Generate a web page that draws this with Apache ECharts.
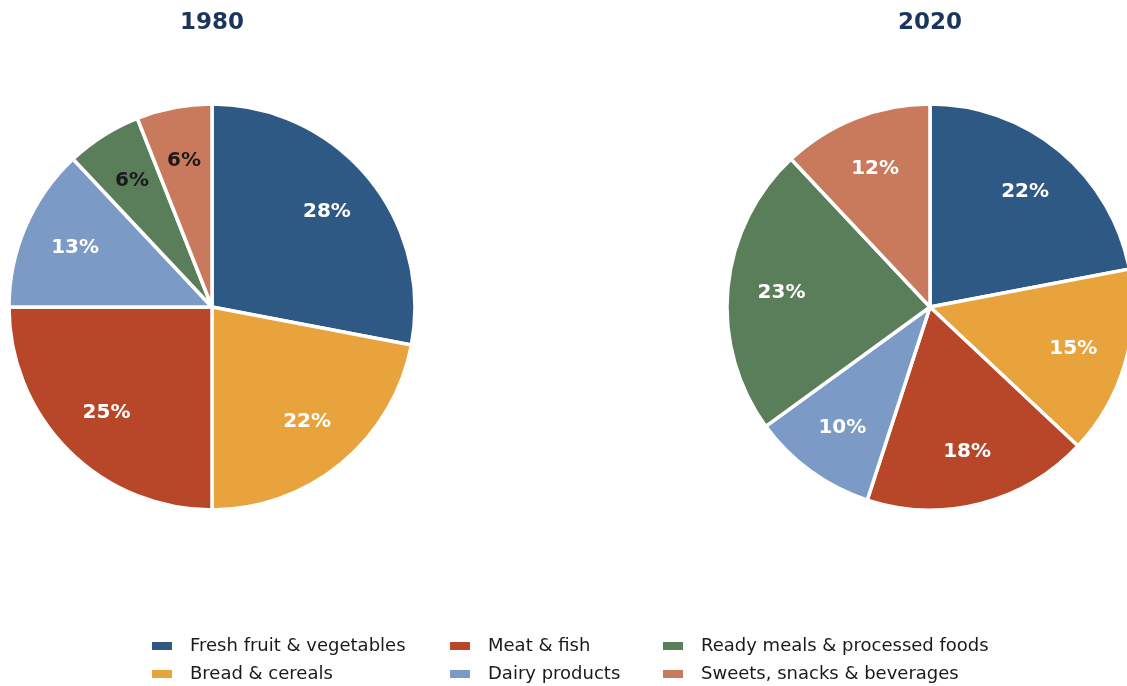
<!DOCTYPE html>
<html>
<head>
<meta charset="utf-8">
<script src="https://cdn.jsdelivr.net/npm/echarts@6/dist/echarts.min.js"></script>
<style>
  html, body { margin: 0; padding: 0; background: #fff; }
  #main { width: 1127px; height: 686px; }
</style>
</head>
<body>
<div id="main"></div>
<script>
// data
var categories = ['Fresh fruit & vegetables', 'Bread & cereals', 'Meat & fish', 'Dairy products', 'Ready meals & processed foods', 'Sweets, snacks & beverages'];
var colors = ['#2e5984', '#e8a33c', '#b8472a', '#7b9bc6', '#5a7d5a', '#c97a5c'];
var years = ['1980', '2020'];
var values1980 = [28, 22, 25, 13, 6, 6];
var values2020 = [22, 15, 18, 10, 23, 12];

var FONT = 'DejaVu Sans';
var R = 203;
var centers = [[212, 307], [930, 307]];

var chart = echarts.init(document.getElementById('main'));

function pieData(vals) {
    var out = [];
    for (var i = 0; i < vals.length; i++) {
        out.push({
            name: categories[i],
            value: vals[i],
            itemStyle: { color: colors[i] },
            // small slices get dark labels
            label: { color: vals[i] < 8 ? '#1a1a1a' : '#ffffff' }
        });
    }
    return out;
}

function pieSeries(vals, center) {
    return {
        type: 'pie',
        center: center,
        radius: [0, R],
        startAngle: 90,
        clockwise: true,
        label: { show: false },
        labelLine: { show: false },
        emphasis: { disabled: true },
        itemStyle: { borderColor: '#fff', borderWidth: 3.5 },
        data: pieData(vals)
    };
}

// transparent ring just to place the % labels further out
function labelSeries(vals, center) {
    var d = pieData(vals);
    d.forEach(function (it) { it.itemStyle = { color: 'rgba(0,0,0,0)' }; });
    return {
        type: 'pie',
        center: center,
        radius: [R * 0.44, R],
        startAngle: 90,
        clockwise: true,
        silent: true,
        emphasis: { disabled: true },
        label: {
            show: true,
            position: 'inside',
            formatter: '{c}%',
            fontFamily: FONT,
            fontWeight: 'bold',
            fontSize: 20
        },
        labelLine: { show: false },
        itemStyle: { borderWidth: 0 },
        data: d
    };
}

function legendCol(left, names) {
    return {
        orient: 'vertical',
        left: left,
        top: 637,
        padding: 0,
        icon: 'rect',
        itemWidth: 22,
        itemHeight: 10,
        itemGap: 10,
        selectedMode: false,
        data: names,
        textStyle: {
            fontFamily: FONT,
            fontSize: 18,
            lineHeight: 18,
            color: '#1a1a1a',
            padding: [0, 0, 0, 12]
        }
    };
}

var titleStyle = { fontFamily: FONT, fontSize: 23, fontWeight: 'bold', color: '#1b365d' };

var option = {
    animation: false,
    backgroundColor: '#fff',
    title: [
        { text: years[0], left: centers[0][0], top: 12, textAlign: 'center', padding: 0, textStyle: titleStyle },
        { text: years[1], left: centers[1][0], top: 12, textAlign: 'center', padding: 0, textStyle: titleStyle }
    ],
    legend: [
        legendCol(150, [categories[0], categories[1]]),
        legendCol(448, [categories[2], categories[3]]),
        legendCol(661, [categories[4], categories[5]])
    ],
    series: [
        pieSeries(values1980, centers[0]),
        pieSeries(values2020, centers[1]),
        labelSeries(values1980, centers[0]),
        labelSeries(values2020, centers[1])
    ]
};

chart.setOption(option);
</script>
</body>
</html>
